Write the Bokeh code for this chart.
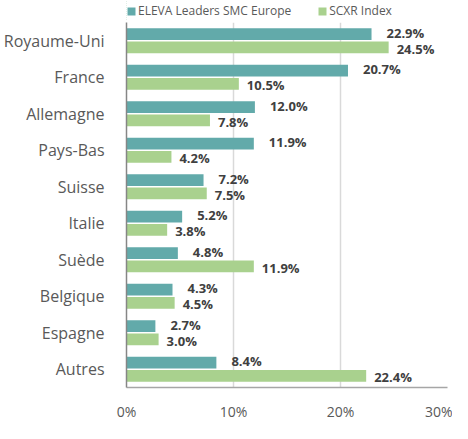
from bokeh.plotting import figure
from bokeh.layouts import column
from bokeh.models import (ColumnDataSource, Legend, LegendItem, NumeralTickFormatter,
                          FixedTicker, Range1d)
from bokeh.transform import dodge
from bokeh.core.properties import value
from bokeh.embed import file_html
from bokeh.resources import INLINE

countries = ["Royaume-Uni", "France", "Allemagne", "Pays-Bas", "Suisse", "Italie",
             "Suède", "Belgique", "Espagne", "Autres"]
eleva = [22.9, 20.7, 12.0, 11.9, 7.2, 5.2, 4.8, 4.3, 2.7, 8.4]
scxr = [24.5, 10.5, 7.8, 4.2, 7.5, 3.8, 11.9, 4.5, 3.0, 22.4]
series_names = ["ELEVA Leaders SMC Europe", "SCXR Index"]
x_ticks = [0, 10, 20, 30]

TEAL = "#62AAAA"
GREEN = "#A9D18E"
FONT = "Open Sans"

src = ColumnDataSource(dict(
    cat=countries,
    eleva=eleva,
    scxr=scxr,
    eleva_lbl=[f"{v:.1f}%" for v in eleva],
    scxr_lbl=[f"{v:.1f}%" for v in scxr],
))

# ---------------- main chart ----------------
p = figure(width=452, height=403, y_range=list(reversed(countries)), x_range=(0, 30),
           output_backend="svg", toolbar_location=None,
           min_border_left=119, min_border_right=5, min_border_top=2, min_border_bottom=10)

r1 = p.hbar(y=dodge("cat", 0.18, range=p.y_range), right="eleva", height=0.32, left=0,
            source=src, fill_color=TEAL, line_color=None)
r2 = p.hbar(y=dodge("cat", -0.18, range=p.y_range), right="scxr", height=0.32, left=0,
            source=src, fill_color=GREEN, line_color=None)

common = dict(source=src, text_font=value(FONT), text_font_style="bold",
              text_font_size="13px", text_color="#404040", text_baseline="middle",
              text_align="left")
p.text(x="eleva", y=dodge("cat", 0.22, range=p.y_range), text="eleva_lbl", x_offset=15, **common)
p.text(x="scxr", y=dodge("cat", -0.22, range=p.y_range), text="scxr_lbl", x_offset=8, **common)

p.xaxis.ticker = FixedTicker(ticks=x_ticks)
p.xaxis.formatter = NumeralTickFormatter(format="0")
p.xaxis.major_label_overrides = {t: f"{t}%" for t in x_ticks}
p.xaxis.major_tick_line_color = None
p.xaxis.minor_tick_line_color = None
p.xaxis.axis_line_color = "#A6A6A6"
p.xaxis.axis_line_width = 1.5
p.xaxis.major_label_text_font = FONT
p.xaxis.major_label_text_font_size = "14px"
p.xaxis.major_label_text_color = "#595959"
p.xaxis.major_label_standoff = 8

p.yaxis.major_tick_line_color = None
p.yaxis.minor_tick_line_color = None
p.yaxis.axis_line_color = "#868686"
p.yaxis.axis_line_width = 1.5
p.yaxis.major_label_text_font = FONT
p.yaxis.major_label_text_font_size = "16px"
p.yaxis.major_label_text_color = "#595959"
p.yaxis.major_label_standoff = 16

p.ygrid.grid_line_color = None
p.xgrid.grid_line_color = "#D9D9D9"
p.xgrid.grid_line_width = 1.5
p.outline_line_color = None

# ---------------- legend strip ----------------
lg = figure(width=452, height=20, x_range=Range1d(100, 101), y_range=list(reversed(countries)),
            output_backend="svg", toolbar_location=None,
            x_axis_location=None, y_axis_location=None,
            min_border_left=119, min_border_right=5, min_border_top=0, min_border_bottom=0)
lg.grid.grid_line_color = None
lg.outline_line_color = None
l1 = lg.hbar(y="cat", right="eleva", left=0, height=0.3, source=src,
             fill_color=TEAL, line_color=None)
l2 = lg.hbar(y="cat", right="scxr", left=0, height=0.3, source=src,
             fill_color=GREEN, line_color=None)

legend = Legend(items=[LegendItem(label=series_names[0], renderers=[l1]),
                       LegendItem(label=series_names[1], renderers=[l2])],
                orientation="horizontal", location=(0, 1),
                label_text_font=FONT, label_text_font_size="12px", label_text_color="#595959",
                glyph_width=10, glyph_height=10, label_standoff=2, spacing=26,
                padding=0, margin=0, border_line_color=None, background_fill_alpha=0,
                label_height=12)
lg.add_layout(legend, "center")

layout = column(lg, p, spacing=0)
open("out.html", "w").write(file_html(layout, INLINE))
